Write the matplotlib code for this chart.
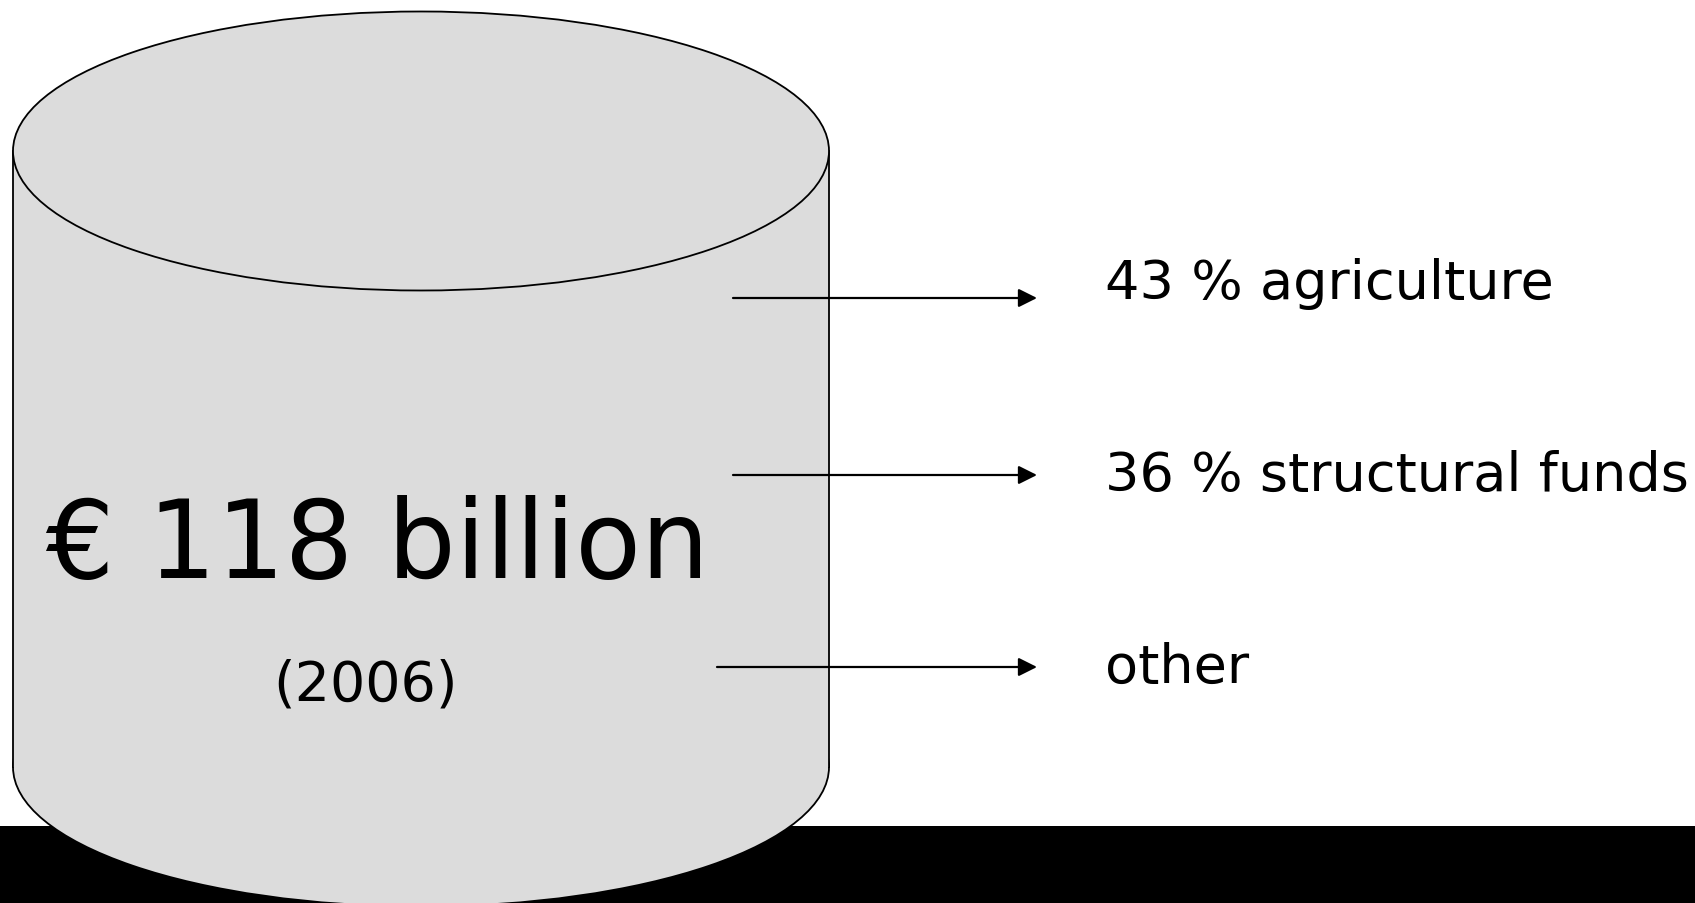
import matplotlib
matplotlib.use('Agg')
import matplotlib.pyplot as plt
from matplotlib.patches import Ellipse, Rectangle

# Data
total_label = "€ 118 billion"
year_label = "(2006)"
shares = ["43 %", "36 %", ""]
categories = ["agriculture", "structural funds", "other"]
arrow_y = [299, 476, 668]
arrow_x0 = [733, 733, 717]
label_y = [284, 476, 668]

W, H = 1695, 904
fig = plt.figure(figsize=(W / 100, H / 100), dpi=100)
fig.patch.set_facecolor('white')
ax = fig.add_axes([0, 0, 1, 1])
ax.set_xlim(0, W)
ax.set_ylim(H, 0)
ax.axis('off')

# black band at the bottom
ax.add_patch(Rectangle((0, 827), W, H - 827, facecolor='black', edgecolor='none', zorder=0))

# cylinder
cx, rw, rh = 421, 408, 139.5
top_y, bot_y = 152, 768
fill = '#dcdcdc'
lw = 1.3
ax.add_patch(Ellipse((cx, bot_y), 2 * rw, 2 * rh, facecolor=fill, edgecolor='black', lw=lw, zorder=1))
ax.add_patch(Rectangle((cx - rw, top_y), 2 * rw, bot_y - top_y, facecolor=fill, edgecolor='none', zorder=2))
ax.plot([cx - rw, cx - rw], [top_y, bot_y], color='black', lw=lw, zorder=3)
ax.plot([cx + rw, cx + rw], [top_y, bot_y], color='black', lw=lw, zorder=3)
ax.add_patch(Ellipse((cx, top_y), 2 * rw, 2 * rh, facecolor=fill, edgecolor='black', lw=lw, zorder=4))

# main texts
ax.text(377, 578, total_label, fontsize=77.5, ha='center', va='baseline', color='black', zorder=5)
ax.text(366, 686, year_label, fontsize=40, ha='center', va='center', color='black', zorder=5)

# arrows and labels
for s, c, ay, ax0, ly in zip(shares, categories, arrow_y, arrow_x0, label_y):
    ax.annotate('', xy=(1037, ay), xytext=(ax0, ay),
                arrowprops=dict(arrowstyle='-|>', color='black', lw=1.6,
                                mutation_scale=28, shrinkA=0, shrinkB=0),
                zorder=6)
    txt = f"{s} {c}" if s else c
    ax.text(1105, ly, txt, fontsize=39, ha='left', va='center', color='black', zorder=6)

plt.savefig('out.png', dpi=100, facecolor='white')
plt.close()
